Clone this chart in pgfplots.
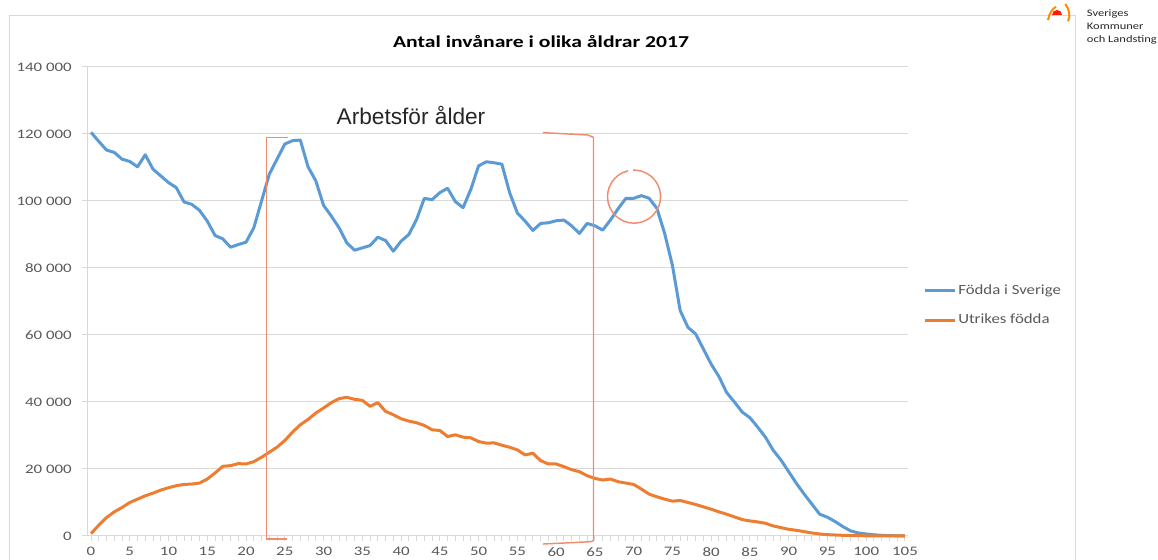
\documentclass[border=0pt]{standalone}
\usepackage{pgfplots}
\pgfplotsset{compat=1.18}
\usepackage{pgfplotstable}
\usepackage{fontspec}
\setmainfont{Carlito}
\newfontfamily\arialf{Liberation Sans}
\definecolor{sblue}{HTML}{5B9BD5}
\definecolor{sorange}{HTML}{ED7D31}
\definecolor{annot}{HTML}{F08C6E}
\definecolor{gridc}{HTML}{D9D9D9}
\definecolor{txt}{HTML}{595959}
\newcommand\sx[1]{\scalebox{1.3}[1]{#1}}

\pgfplotstableread{
age fodda utrikes
0 120500 700
1 117800 3200
2 115200 5500
3 114500 7200
4 112500 8500
5 111800 10000
6 110200 11000
7 113800 12000
8 109500 12800
9 107500 13700
10 105500 14400
11 104000 15000
12 99700 15400
13 99000 15500
14 97200 15800
15 94000 17000
16 89700 18800
17 88700 20800
18 86200 21000
19 87000 21600
20 87700 21500
21 92000 22200
22 100000 23500
23 108000 25000
24 112500 26500
25 117000 28500
26 118000 31000
27 118200 33200
28 110200 34800
29 106000 36700
30 98700 38200
31 95500 39800
32 92000 41000
33 87500 41400
34 85300 40800
35 86000 40500
36 86700 38700
37 89200 39800
38 88200 37200
39 85000 36200
40 88000 35000
41 90000 34300
42 94500 33800
43 100800 33000
44 100400 31700
45 102500 31500
46 103800 29700
47 99800 30200
48 98000 29500
49 103500 29300
50 110500 28200
51 111700 27700
52 111400 27800
53 111000 27100
54 102500 26500
55 96400 25700
56 94000 24200
57 91200 24700
58 93300 22500
59 93500 21500
60 94100 21500
61 94300 20700
62 92600 19800
63 90300 19200
64 93300 18000
65 92600 17200
66 91300 16700
67 94300 17000
68 97700 16200
69 100800 15800
70 100800 15400
71 101600 14000
72 100800 12500
73 97800 11700
74 90300 11000
75 80800 10400
76 67300 10600
77 62300 10000
78 60300 9400
79 55800 8700
80 51300 8000
81 47600 7200
82 42800 6500
83 40000 5700
84 37000 4900
85 35300 4500
86 32500 4200
87 29500 3800
88 25600 3000
89 22700 2500
90 19200 2000
91 15700 1700
92 12500 1300
93 9500 900
94 6500 600
95 5600 400
96 4300 300
97 2800 200
98 1500 150
99 900 100
100 600 60
101 350 40
102 200 20
103 100 10
104 60 5
105 30 0
}\datatable

\begin{document}
\begin{tikzpicture}
\useasboundingbox (0,0) rectangle (868.5pt,420pt);
% chart frame
\draw[gridc, line width=0.75pt] (6.75pt,-5pt) -- (6.75pt,408pt) -- (806.25pt,408pt) -- (806.25pt,-5pt);
\begin{axis}[
  at={(65.25pt,18pt)}, anchor=south west,
  scale only axis, width=615.75pt, height=351.75pt,
  xmin=-0.516, xmax=105.39, ymin=0, ymax=140000,
  clip=false, scaled y ticks=false,
  axis x line*=bottom, axis y line*=left,
  axis line style={gridc, line width=0.75pt, -},
  ymajorgrids, grid style={gridc, line width=0.75pt},
  ytick={0,20000,...,140000},
  yticklabels={\sx{0},\sx{20 000},\sx{40 000},\sx{60 000},\sx{80 000},\sx{100 000},\sx{120 000},\sx{140 000}},
  xtick={0,5,...,105},
  xticklabels={\sx{0},\sx{5},\sx{10},\sx{15},\sx{20},\sx{25},\sx{30},\sx{35},\sx{40},\sx{45},\sx{50},\sx{55},\sx{60},\sx{65},\sx{70},\sx{75},\sx{80},\sx{85},\sx{90},\sx{95},\sx{100},\sx{105}},
  minor xtick={0,1,...,105},
  tick align=outside,
  major tick length=3.75pt, minor tick length=3.75pt,
  tick style={gridc, line width=0.75pt},
  ticklabel style={font=\fontsize{9.75pt}{11pt}\selectfont, text=txt, inner sep=0pt},
  yticklabel style={anchor=east, xshift=-7.5pt},
  xticklabel style={anchor=north, yshift=-4.5pt},
  legend style={at={(axis description cs:1.0183,0.4915)}, anchor=west, draw=none, fill=none,
    inner sep=0pt, font=\fontsize{10.5pt}{12pt}\selectfont, text=txt, row sep=10pt,
    nodes={inner sep=1.5pt}},
  legend cell align=left,
  legend image code/.code={\draw[#1, line width=2.25pt] (0pt,0pt) -- (22.5pt,0pt);},
]
\addplot[sblue, line width=2.25pt, line join=round] table[x=age, y=fodda] {\datatable};
\addlegendentry{\scalebox{1.2}[1]{Födda i Sverige}}
\addplot[sorange, line width=2.25pt, line join=round] table[x=age, y=utrikes] {\datatable};
\addlegendentry{\scalebox{1.2}[1]{Utrikes födda}}
% annotations
\draw[annot, line width=1.1pt] (axis cs:25.4,119000) -- (axis cs:22.67,119000) -- (axis cs:22.67,-900) -- (axis cs:25.3,-900);
\draw[annot, line width=1.1pt] (axis cs:58.3,120400) -- (axis cs:64.1,119700) -- (axis cs:64.82,119000) -- (axis cs:64.82,-1350) -- (axis cs:64.5,-1700) -- (axis cs:58.3,-2400);
\draw[annot, line width=1.1pt] (axis cs:70.05,101300) ++(103:19.9pt) arc[start angle=103, end angle=452, radius=19.9pt];
\end{axis}
% title
\node[font=\bfseries\fontsize{12.5pt}{15pt}\selectfont] at (405.75pt,388.5pt) {\scalebox{1.3}[1]{Antal invånare i olika åldrar 2017}};
% annotation text
\node[font=\arialf\fontsize{17pt}{20pt}\selectfont, text=black!85] at (308.25pt,333.75pt) {Arbetsför ålder};
% logo
\fill[red!80!orange] (796.5pt,408.75pt) arc[start angle=0, end angle=180, radius=3.75pt] -- cycle;
\draw[orange!90!yellow, line width=1.5pt] (786pt,405pt) .. controls (787pt,410pt) and (789pt,413pt) .. (792pt,415pt);
\draw[orange!90!yellow, line width=1.5pt] (801pt,404pt) .. controls (803pt,408pt) and (802pt,413pt) .. (799pt,417pt);
\node[anchor=north west, align=left, font=\fontsize{7.5pt}{9.75pt}\selectfont, text=black!85, inner sep=0pt] at (815pt,413pt) {\scalebox{1.25}[1]{Sveriges}\\\scalebox{1.25}[1]{Kommuner}\\\scalebox{1.25}[1]{och Landsting}};
\end{tikzpicture}
\end{document}
